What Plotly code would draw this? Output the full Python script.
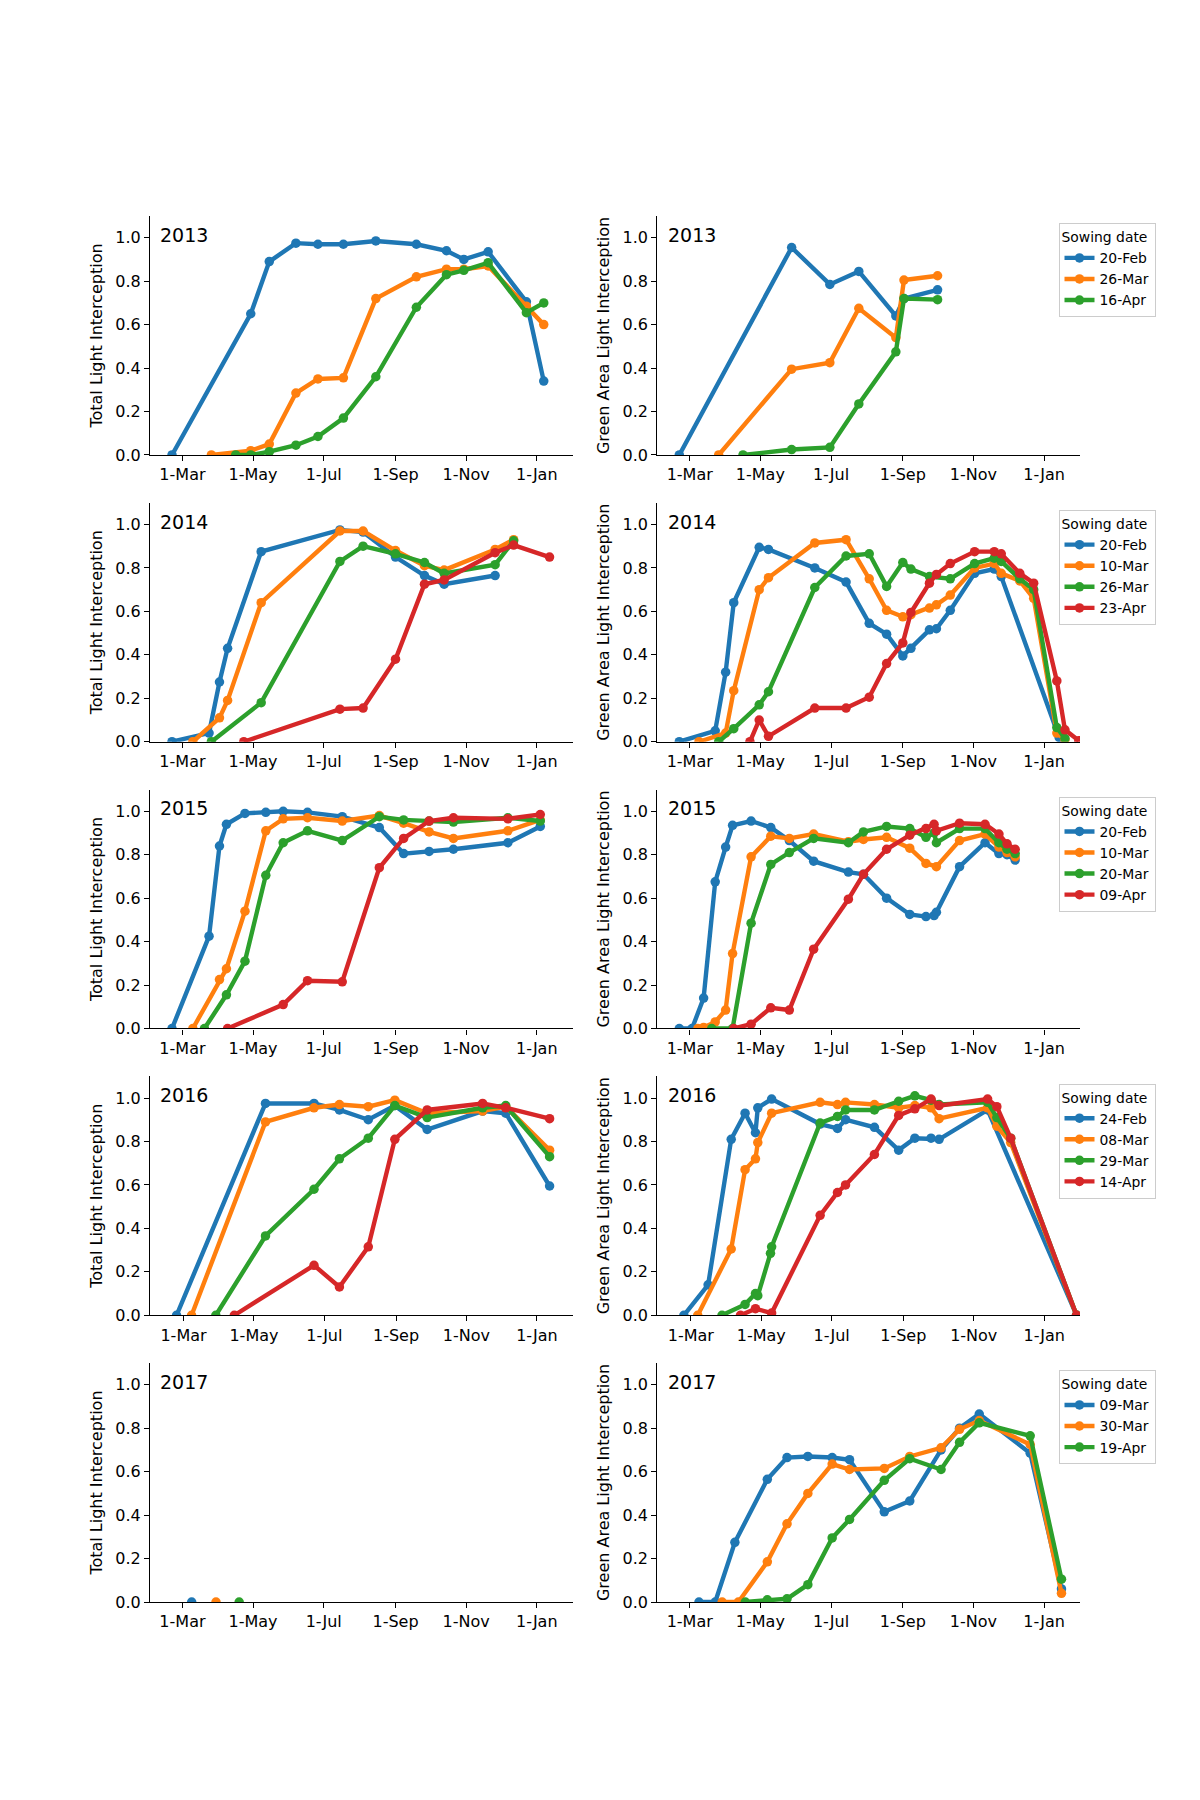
import plotly.graph_objects as go

YEARS = [2013, 2014, 2015, 2016, 2017]
TICK_LABELS = ["1-Mar", "1-May", "1-Jul", "1-Sep", "1-Nov", "1-Jan"]
TICK_MONTHDAY = ["03-01", "05-01", "07-01", "09-01", "11-01", "01-01"]
COLORS = ["#1f77b4", "#ff7f0e", "#2ca02c", "#d62728"]
Y_TICKS = [0.0, 0.2, 0.4, 0.6, 0.8, 1.0]
LEFT_TITLE = "Total Light Interception"
RIGHT_TITLE = "Green Area Light Interception"
LEGEND_TITLE = "Sowing date"

SOW_2013 = ["20-Feb", "26-Mar", "16-Apr"]
SOW_2014 = ["20-Feb", "10-Mar", "26-Mar", "23-Apr"]
SOW_2015 = ["20-Feb", "10-Mar", "20-Mar", "09-Apr"]
SOW_2016 = ["24-Feb", "08-Mar", "29-Mar", "14-Apr"]
SOW_2017 = ["09-Mar", "30-Mar", "19-Apr"]

# ---------------- 2013 ----------------
TLI13_X1 = ["2013-02-20","2013-04-29","2013-05-15","2013-06-07","2013-06-26","2013-07-18","2013-08-15","2013-09-19","2013-10-15","2013-10-30","2013-11-20","2013-12-23","2014-01-07"]
TLI13_Y1 = [0.0,0.65,0.89,0.975,0.97,0.97,0.985,0.97,0.94,0.90,0.935,0.705,0.34]
TLI13_X2 = ["2013-03-26","2013-04-29","2013-05-15","2013-06-07","2013-06-26","2013-07-18","2013-08-15","2013-09-19","2013-10-15","2013-10-30","2013-11-20","2013-12-23","2014-01-07"]
TLI13_Y2 = [0.0,0.02,0.05,0.285,0.35,0.355,0.72,0.82,0.855,0.855,0.87,0.685,0.60]
TLI13_X3 = ["2013-04-16","2013-04-29","2013-05-15","2013-06-07","2013-06-26","2013-07-18","2013-08-15","2013-09-19","2013-10-15","2013-10-30","2013-11-20","2013-12-23","2014-01-07"]
TLI13_Y3 = [0.0,0.0,0.015,0.045,0.085,0.17,0.36,0.68,0.83,0.85,0.885,0.655,0.70]

GAI13_X1 = ["2013-02-20","2013-05-28","2013-06-30","2013-07-25","2013-08-26","2013-09-02","2013-10-01"]
GAI13_Y1 = [0.0,0.955,0.785,0.845,0.64,0.72,0.76]
GAI13_X2 = ["2013-03-26","2013-05-28","2013-06-30","2013-07-25","2013-08-26","2013-09-02","2013-10-01"]
GAI13_Y2 = [0.0,0.395,0.425,0.675,0.54,0.805,0.825]
GAI13_X3 = ["2013-04-16","2013-05-28","2013-06-30","2013-07-25","2013-08-26","2013-09-02","2013-10-01"]
GAI13_Y3 = [0.0,0.025,0.035,0.235,0.475,0.72,0.715]

# ---------------- 2014 ----------------
TLI14_X1 = ["2014-02-20","2014-03-24","2014-04-02","2014-04-09","2014-05-08","2014-07-15","2014-08-04","2014-09-01","2014-09-26","2014-10-13","2014-11-26"]
TLI14_Y1 = [0.0,0.04,0.275,0.43,0.875,0.975,0.965,0.85,0.765,0.725,0.765]
TLI14_X2 = ["2014-03-10","2014-04-02","2014-04-09","2014-05-08","2014-07-15","2014-08-04","2014-09-01","2014-09-26","2014-10-13","2014-11-26","2014-12-12"]
TLI14_Y2 = [0.0,0.11,0.19,0.64,0.97,0.97,0.88,0.81,0.79,0.885,0.93]
TLI14_X3 = ["2014-03-26","2014-05-08","2014-07-15","2014-08-04","2014-09-01","2014-09-26","2014-10-13","2014-11-26","2014-12-12"]
TLI14_Y3 = [0.0,0.18,0.83,0.90,0.865,0.825,0.775,0.815,0.925]
TLI14_X4 = ["2014-04-23","2014-07-15","2014-08-04","2014-09-01","2014-09-26","2014-10-13","2014-11-26","2014-12-12","2015-01-12"]
TLI14_Y4 = [0.0,0.15,0.155,0.38,0.725,0.745,0.87,0.905,0.85]

GAI14_X1 = ["2014-02-20","2014-03-23","2014-04-01","2014-04-08","2014-04-30","2014-05-08","2014-06-17","2014-07-14","2014-08-03","2014-08-18","2014-09-01","2014-09-08","2014-09-24","2014-09-30","2014-10-12","2014-11-02","2014-11-19","2014-11-25","2015-01-14"]
GAI14_Y1 = [0.0,0.05,0.32,0.64,0.895,0.885,0.80,0.735,0.545,0.495,0.395,0.43,0.515,0.52,0.605,0.775,0.795,0.76,0.02]
GAI14_X2 = ["2014-03-09","2014-04-01","2014-04-08","2014-04-30","2014-05-08","2014-06-17","2014-07-14","2014-08-03","2014-08-18","2014-09-01","2014-09-08","2014-09-24","2014-09-30","2014-10-12","2014-11-02","2014-11-19","2014-11-25","2014-12-11","2014-12-23","2015-01-12","2015-01-19"]
GAI14_Y2 = [0.0,0.04,0.235,0.70,0.755,0.915,0.93,0.75,0.605,0.575,0.585,0.615,0.63,0.675,0.80,0.82,0.775,0.74,0.66,0.04,0.01]
GAI14_X3 = ["2014-03-26","2014-04-08","2014-04-30","2014-05-08","2014-06-17","2014-07-14","2014-08-03","2014-08-18","2014-09-01","2014-09-08","2014-09-24","2014-10-12","2014-11-02","2014-11-19","2014-11-25","2014-12-11","2014-12-23","2015-01-12","2015-01-19"]
GAI14_Y3 = [0.0,0.06,0.17,0.23,0.71,0.855,0.865,0.715,0.825,0.795,0.76,0.75,0.82,0.845,0.83,0.75,0.70,0.065,0.015]
GAI14_X4 = ["2014-04-22","2014-04-30","2014-05-08","2014-06-17","2014-07-14","2014-08-03","2014-08-18","2014-09-01","2014-09-08","2014-09-24","2014-09-30","2014-10-12","2014-11-02","2014-11-19","2014-11-25","2014-12-11","2014-12-23","2015-01-12","2015-01-19","2015-01-31"]
GAI14_Y4 = [0.0,0.10,0.025,0.155,0.155,0.205,0.36,0.455,0.595,0.73,0.77,0.82,0.875,0.875,0.865,0.775,0.73,0.28,0.055,0.005]

# ---------------- 2015 ----------------
TLI15_X1 = ["2015-02-20","2015-03-24","2015-04-02","2015-04-08","2015-04-24","2015-05-12","2015-05-27","2015-06-17","2015-07-17","2015-08-18","2015-09-08","2015-09-30","2015-10-21","2015-12-07","2016-01-04"]
TLI15_Y1 = [0.0,0.425,0.84,0.94,0.99,0.995,1.0,0.995,0.975,0.925,0.805,0.815,0.825,0.855,0.93]
TLI15_X2 = ["2015-03-10","2015-04-02","2015-04-08","2015-04-24","2015-05-12","2015-05-27","2015-06-17","2015-07-17","2015-08-18","2015-09-08","2015-09-30","2015-10-21","2015-12-07","2016-01-04"]
TLI15_Y2 = [0.0,0.225,0.275,0.54,0.91,0.965,0.97,0.955,0.98,0.945,0.905,0.875,0.91,0.96]
TLI15_X3 = ["2015-03-20","2015-04-08","2015-04-24","2015-05-12","2015-05-27","2015-06-17","2015-07-17","2015-08-18","2015-09-08","2015-09-30","2015-10-21","2015-12-07","2016-01-04"]
TLI15_Y3 = [0.0,0.155,0.31,0.705,0.855,0.91,0.865,0.975,0.96,0.955,0.95,0.97,0.955]
TLI15_X4 = ["2015-04-09","2015-05-27","2015-06-17","2015-07-17","2015-08-18","2015-09-08","2015-09-30","2015-10-21","2015-12-07","2016-01-04"]
TLI15_Y4 = [0.0,0.11,0.22,0.215,0.74,0.875,0.955,0.97,0.965,0.985]

GAI15_X1 = ["2015-02-20","2015-03-03","2015-03-13","2015-03-23","2015-04-01","2015-04-07","2015-04-23","2015-05-10","2015-05-26","2015-06-16","2015-07-16","2015-07-29","2015-08-18","2015-09-07","2015-09-21","2015-09-28","2015-09-30","2015-10-20","2015-11-11","2015-11-23","2015-11-30","2015-12-07"]
GAI15_Y1 = [0.0,0.0,0.14,0.675,0.835,0.935,0.955,0.925,0.865,0.77,0.72,0.71,0.60,0.525,0.515,0.52,0.535,0.745,0.855,0.805,0.80,0.775]
GAI15_X2 = ["2015-03-08","2015-03-13","2015-03-23","2015-04-01","2015-04-07","2015-04-23","2015-05-10","2015-05-26","2015-06-16","2015-07-16","2015-07-29","2015-08-18","2015-09-07","2015-09-21","2015-09-30","2015-10-20","2015-11-11","2015-11-23","2015-11-30","2015-12-07"]
GAI15_Y2 = [0.0,0.005,0.03,0.085,0.345,0.79,0.885,0.875,0.895,0.86,0.87,0.88,0.83,0.76,0.745,0.865,0.895,0.835,0.81,0.79]
GAI15_X3 = ["2015-03-20","2015-04-07","2015-04-23","2015-05-10","2015-05-26","2015-06-16","2015-07-16","2015-07-29","2015-08-18","2015-09-07","2015-09-21","2015-09-28","2015-09-30","2015-10-20","2015-11-11","2015-11-23","2015-11-30","2015-12-07"]
GAI15_Y3 = [0.0,0.0,0.485,0.755,0.81,0.875,0.855,0.905,0.93,0.92,0.88,0.90,0.855,0.92,0.92,0.855,0.825,0.805]
GAI15_X4 = ["2015-04-08","2015-04-23","2015-05-10","2015-05-26","2015-06-16","2015-07-16","2015-07-29","2015-08-18","2015-09-07","2015-09-21","2015-09-28","2015-09-30","2015-10-20","2015-11-11","2015-11-23","2015-11-30","2015-12-07"]
GAI15_Y4 = [0.0,0.02,0.095,0.085,0.365,0.595,0.71,0.825,0.89,0.92,0.94,0.91,0.945,0.94,0.895,0.85,0.825]

# ---------------- 2016 ----------------
TLI16_X1 = ["2016-02-24","2016-05-11","2016-06-22","2016-07-14","2016-08-08","2016-08-31","2016-09-28","2016-11-15","2016-12-05","2017-01-12"]
TLI16_Y1 = [0.0,0.975,0.975,0.945,0.90,0.965,0.855,0.94,0.93,0.595]
TLI16_X2 = ["2016-03-08","2016-05-11","2016-06-22","2016-07-14","2016-08-08","2016-08-31","2016-09-28","2016-11-15","2016-12-05","2017-01-12"]
TLI16_Y2 = [0.0,0.89,0.955,0.97,0.96,0.99,0.93,0.94,0.96,0.76]
TLI16_X3 = ["2016-03-29","2016-05-11","2016-06-22","2016-07-14","2016-08-08","2016-08-31","2016-09-28","2016-11-15","2016-12-05","2017-01-12"]
TLI16_Y3 = [0.0,0.365,0.58,0.72,0.815,0.965,0.91,0.955,0.965,0.73]
TLI16_X4 = ["2016-04-14","2016-06-22","2016-07-14","2016-08-08","2016-08-31","2016-09-28","2016-11-15","2016-12-05","2017-01-12"]
TLI16_Y4 = [0.0,0.23,0.13,0.315,0.81,0.945,0.975,0.955,0.905]

GAI16_X1 = ["2016-02-24","2016-03-16","2016-04-05","2016-04-17","2016-04-26","2016-04-28","2016-05-10","2016-06-21","2016-07-06","2016-07-13","2016-08-07","2016-08-28","2016-09-11","2016-09-25","2016-10-02","2016-11-13","2017-01-29"]
GAI16_Y1 = [0.0,0.14,0.81,0.93,0.84,0.955,0.995,0.88,0.86,0.90,0.865,0.76,0.815,0.815,0.81,0.945,0.0]
GAI16_X2 = ["2016-03-07","2016-04-05","2016-04-17","2016-04-26","2016-04-28","2016-05-10","2016-06-21","2016-07-06","2016-07-13","2016-08-07","2016-08-28","2016-09-11","2016-09-25","2016-10-02","2016-11-13","2016-11-21","2016-12-03","2017-01-29"]
GAI16_Y2 = [0.0,0.305,0.67,0.72,0.795,0.93,0.98,0.97,0.98,0.97,0.955,0.965,0.955,0.905,0.955,0.87,0.795,0.0]
GAI16_X3 = ["2016-03-28","2016-04-17","2016-04-26","2016-04-28","2016-05-09","2016-05-10","2016-06-21","2016-07-06","2016-07-13","2016-08-07","2016-08-28","2016-09-11","2016-09-25","2016-10-02","2016-11-13","2016-11-21","2016-12-03","2017-01-29"]
GAI16_Y3 = [0.0,0.05,0.10,0.09,0.285,0.315,0.885,0.915,0.945,0.945,0.985,1.01,0.99,0.97,0.98,0.91,0.815,0.0]
GAI16_X4 = ["2016-04-13","2016-04-26","2016-05-10","2016-06-21","2016-07-06","2016-07-13","2016-08-07","2016-08-28","2016-09-11","2016-09-25","2016-10-02","2016-11-13","2016-11-21","2016-12-03","2017-01-29"]
GAI16_Y4 = [0.0,0.03,0.01,0.46,0.565,0.60,0.74,0.92,0.95,0.995,0.965,0.995,0.96,0.815,0.0]

# ---------------- 2017 ----------------
TLI17_X1 = ["2017-03-09"]
TLI17_Y1 = [0.0]
TLI17_X2 = ["2017-03-30"]
TLI17_Y2 = [0.0]
TLI17_X3 = ["2017-04-19"]
TLI17_Y3 = [0.0]

GAI17_X1 = ["2017-03-09","2017-03-23","2017-04-09","2017-05-07","2017-05-24","2017-06-11","2017-07-02","2017-07-17","2017-08-16","2017-09-07","2017-10-04","2017-10-20","2017-11-06","2017-12-20","2018-01-16"]
GAI17_Y1 = [0.0,0.0,0.275,0.565,0.665,0.67,0.665,0.655,0.415,0.465,0.70,0.80,0.865,0.685,0.06]
GAI17_X2 = ["2017-03-29","2017-04-12","2017-05-07","2017-05-24","2017-06-11","2017-07-02","2017-07-17","2017-08-16","2017-09-07","2017-10-04","2017-10-20","2017-11-06","2017-12-20","2018-01-16"]
GAI17_Y2 = [0.0,0.0,0.185,0.36,0.50,0.635,0.61,0.615,0.67,0.71,0.795,0.835,0.725,0.04]
GAI17_X3 = ["2017-04-18","2017-05-07","2017-05-24","2017-06-11","2017-07-02","2017-07-17","2017-08-16","2017-09-07","2017-10-04","2017-10-20","2017-11-06","2017-12-20","2018-01-16"]
GAI17_Y3 = [0.0,0.01,0.015,0.08,0.295,0.38,0.56,0.66,0.61,0.735,0.825,0.765,0.105]

# table assembled from the named lists above
PANELS = [
    (2013, SOW_2013,
     [(TLI13_X1, TLI13_Y1), (TLI13_X2, TLI13_Y2), (TLI13_X3, TLI13_Y3)],
     [(GAI13_X1, GAI13_Y1), (GAI13_X2, GAI13_Y2), (GAI13_X3, GAI13_Y3)]),
    (2014, SOW_2014,
     [(TLI14_X1, TLI14_Y1), (TLI14_X2, TLI14_Y2), (TLI14_X3, TLI14_Y3), (TLI14_X4, TLI14_Y4)],
     [(GAI14_X1, GAI14_Y1), (GAI14_X2, GAI14_Y2), (GAI14_X3, GAI14_Y3), (GAI14_X4, GAI14_Y4)]),
    (2015, SOW_2015,
     [(TLI15_X1, TLI15_Y1), (TLI15_X2, TLI15_Y2), (TLI15_X3, TLI15_Y3), (TLI15_X4, TLI15_Y4)],
     [(GAI15_X1, GAI15_Y1), (GAI15_X2, GAI15_Y2), (GAI15_X3, GAI15_Y3), (GAI15_X4, GAI15_Y4)]),
    (2016, SOW_2016,
     [(TLI16_X1, TLI16_Y1), (TLI16_X2, TLI16_Y2), (TLI16_X3, TLI16_Y3), (TLI16_X4, TLI16_Y4)],
     [(GAI16_X1, GAI16_Y1), (GAI16_X2, GAI16_Y2), (GAI16_X3, GAI16_Y3), (GAI16_X4, GAI16_Y4)]),
    (2017, SOW_2017,
     [(TLI17_X1, TLI17_Y1), (TLI17_X2, TLI17_Y2), (TLI17_X3, TLI17_Y3)],
     [(GAI17_X1, GAI17_Y1), (GAI17_X2, GAI17_Y2), (GAI17_X3, GAI17_Y3)]),
]

FONT = "DejaVu Sans, Liberation Sans, sans-serif"
TICK_SIZE = 16
LEGEND_SIZE = 13.9

# page geometry: the html body adds an 8px margin, so the figure is 1184x1784
OFF = 8
W, H = 1200 - 2 * OFF, 1800 - 2 * OFF


def px(xfull):
    return (xfull - OFF) / W


def py(yfull):
    return 1 - (yfull - OFF) / H


AX_TOP0 = 216.0
ROW_H = 238.97
ROW_STEP = 286.76
COL_X = [(150.0, 572.7), (657.3, 1080.0)]

fig = go.Figure()
layout = dict(
    width=W, height=H,
    margin=dict(l=0, r=0, t=0, b=0),
    paper_bgcolor="white", plot_bgcolor="white",
    font=dict(family=FONT, size=TICK_SIZE, color="black"),
    showlegend=True,
)
annotations = []

for r, (year, sowing, tli, gai) in enumerate(PANELS):
    top = AX_TOP0 + r * ROW_STEP
    ydom = [py(top + ROW_H), py(top)]
    xr = [f"{year}-02-01", f"{year + 1}-02-01"]
    tickvals = [f"{year}-{md}" for md in TICK_MONTHDAY[:-1]] + [f"{year + 1}-{TICK_MONTHDAY[-1]}"]
    legname = "legend" if r == 0 else f"legend{r + 1}"
    for c, (series, ytitle) in enumerate([(tli, LEFT_TITLE), (gai, RIGHT_TITLE)]):
        idx = r * 2 + c + 1
        sfx = "" if idx == 1 else str(idx)
        for k, (xs, ys) in enumerate(series):
            fig.add_trace(go.Scatter(
                x=xs, y=ys, mode="lines+markers",
                name=sowing[k],
                line=dict(color=COLORS[k], width=4.4),
                marker=dict(color=COLORS[k], size=9.5),
                xaxis="x" + sfx, yaxis="y" + sfx,
                showlegend=(c == 1),
                legend=legname,
            ))
        layout["xaxis" + sfx] = dict(
            domain=[px(COL_X[c][0]), px(COL_X[c][1])], anchor="y" + sfx, type="date",
            range=xr, tickvals=tickvals, ticktext=TICK_LABELS,
            showline=True, linecolor="black", linewidth=1.1,
            ticks="outside", ticklen=5, tickwidth=1.1, tickcolor="black",
            showgrid=False, zeroline=False, automargin=False,
            tickfont=dict(family=FONT, size=TICK_SIZE, color="black"),
        )
        layout["yaxis" + sfx] = dict(
            domain=ydom, anchor="x" + sfx, range=[0, 1.1],
            tickvals=Y_TICKS, tickformat=".1f",
            showline=True, linecolor="black", linewidth=1.1,
            ticks="outside", ticklen=5, tickwidth=1.1, tickcolor="black",
            showgrid=False, zeroline=False, automargin=False,
            tickfont=dict(family=FONT, size=TICK_SIZE, color="black"),
            title=dict(text=ytitle, standoff=8,
                       font=dict(family=FONT, size=TICK_SIZE, color="black")),
        )
        annotations.append(dict(
            text=str(year), xref=f"x{sfx} domain", yref=f"y{sfx} domain",
            x=0.02, y=0.975, xanchor="left", yanchor="top", showarrow=False,
            font=dict(family=FONT, size=19, color="black"),
        ))
    layout[legname] = dict(
        title=dict(text=LEGEND_TITLE, side="top",
                   font=dict(family=FONT, size=LEGEND_SIZE, color="black")),
        x=px(1058.5), y=py(top + 7.3), xref="paper", yref="paper",
        xanchor="left", yanchor="top",
        bgcolor="rgba(255,255,255,0.8)", bordercolor="#cccccc", borderwidth=1,
        font=dict(family=FONT, size=LEGEND_SIZE, color="black"),
        tracegroupgap=0,
    )

layout["annotations"] = annotations
fig.update_layout(**layout)
fig.write_html("out.html")
